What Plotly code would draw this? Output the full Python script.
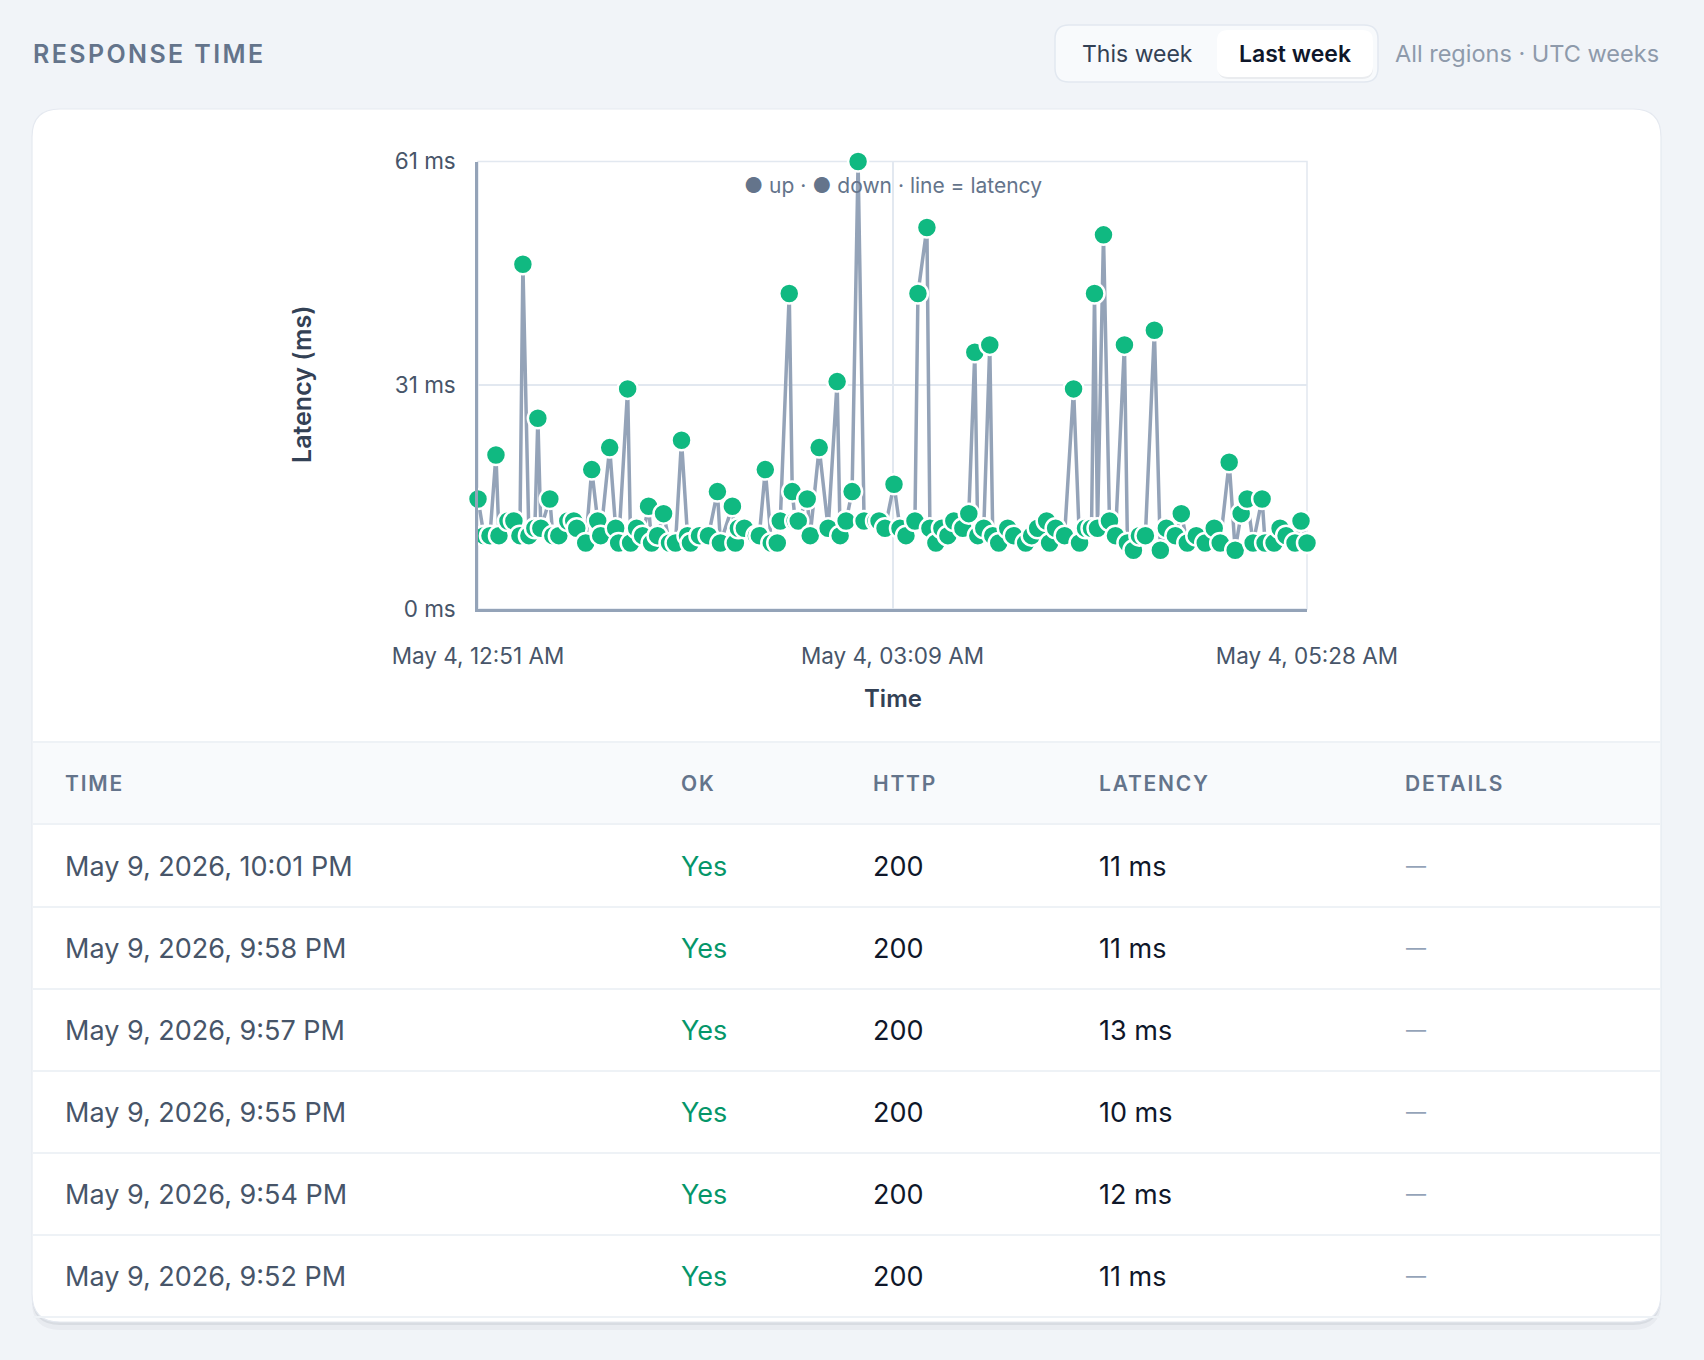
import plotly.graph_objects as go
import pandas as pd

W, H = 1704, 1360

# ---------------- data ----------------
check_times = [
    "00:51", "00:53", "00:55", "00:57", "00:58", "01:01", "01:03", "01:05", "01:06", "01:08",
    "01:10", "01:11", "01:12", "01:15", "01:16", "01:18", "01:21", "01:23", "01:24", "01:27",
    "01:29", "01:31", "01:32", "01:35", "01:37", "01:38", "01:41", "01:42", "01:44", "01:46",
    "01:48", "01:49", "01:51", "01:53", "01:55", "01:57", "01:59", "02:01", "02:02", "02:05",
    "02:08", "02:11", "02:12", "02:16", "02:17", "02:18", "02:20", "02:24", "02:25", "02:27",
    "02:29", "02:31", "02:32", "02:35", "02:36", "02:37", "02:38", "02:41", "02:42", "02:45",
    "02:48", "02:51", "02:52", "02:54", "02:56", "02:58", "03:00", "03:04", "03:05", "03:07",
    "03:10", "03:12", "03:14", "03:17", "03:18", "03:21", "03:22", "03:24", "03:26", "03:28",
    "03:30", "03:33", "03:35", "03:37", "03:38", "03:40", "03:42", "03:43", "03:45", "03:48",
    "03:50", "03:54", "03:56", "03:58", "04:01", "04:02", "04:04", "04:07", "04:10", "04:12",
    "04:14", "04:16", "04:17", "04:18", "04:20", "04:22", "04:24", "04:27", "04:28", "04:30",
    "04:32", "04:34", "04:37", "04:39", "04:41", "04:44", "04:46", "04:48", "04:51", "04:54",
    "04:57", "04:59", "05:02", "05:04", "05:06", "05:08", "05:10", "05:13", "05:14", "05:17",
    "05:19", "05:21", "05:24", "05:26", "05:28",
]
latency_ms = [
    15, 10, 10, 21, 10, 12, 12, 10, 47, 10,
    11, 26, 11, 15, 10, 10, 12, 12, 11, 9,
    19, 12, 10, 22, 11, 9, 30, 9, 11, 10,
    14, 9, 10, 13, 9, 9, 23, 10, 9, 10,
    10, 16, 9, 14, 9, 11, 11, 10, 10, 19,
    9, 9, 12, 43, 16, 12, 12, 15, 10, 22,
    11, 31, 10, 12, 16, 61, 12, 12, 12, 11,
    17, 11, 10, 12, 43, 52, 11, 9, 11, 10,
    12, 11, 13, 35, 10, 11, 36, 10, 9, 11,
    10, 9, 10, 11, 12, 9, 11, 10, 30, 9,
    11, 11, 43, 11, 51, 12, 10, 36, 9, 8,
    10, 10, 38, 8, 11, 10, 13, 9, 10, 9,
    11, 9, 20, 8, 13, 15, 9, 15, 9, 9,
    11, 10, 9, 12, 9,
]
chart_date = "2026-05-04"
y_tick_vals = [0, 30.5, 61]
y_tick_text = ["0 ms", "31 ms", "61 ms"]

table_cols = ["TIME", "OK", "HTTP", "LATENCY", "DETAILS"]
row_time = ["May 9, 2026, 10:01 PM", "May 9, 2026, 9:58 PM", "May 9, 2026, 9:57 PM",
            "May 9, 2026, 9:55 PM", "May 9, 2026, 9:54 PM", "May 9, 2026, 9:52 PM"]
row_ok = ["Yes", "Yes", "Yes", "Yes", "Yes", "Yes"]
row_http = ["200", "200", "200", "200", "200", "200"]
row_latency = ["11 ms", "11 ms", "13 ms", "10 ms", "12 ms", "11 ms"]
row_details = ["—", "—", "—", "—", "—", "—"]

# ---------------- helpers ----------------
FONT = "Inter, Roboto, 'Noto Sans', sans-serif"


def px(x):
    return x / W


def py(y):
    return 1 - y / H


def rr_path(x0, y0, x1, y1, r):
    pts = [
        ("M", [(x0 + r, y0)]),
        ("L", [(x1 - r, y0)]),
        ("Q", [(x1, y0), (x1, y0 + r)]),
        ("L", [(x1, y1 - r)]),
        ("Q", [(x1, y1), (x1 - r, y1)]),
        ("L", [(x0 + r, y1)]),
        ("Q", [(x0, y1), (x0, y1 - r)]),
        ("L", [(x0, y0 + r)]),
        ("Q", [(x0, y0), (x0 + r, y0)]),
    ]
    s = ""
    for cmd, ps in pts:
        s += cmd + " " + " ".join(f"{px(a):.6f},{py(b):.6f}" for a, b in ps) + " "
    return s + "Z"


shapes = []
annotations = []


def add_rr(x0, y0, x1, y1, r, fill, line=None, lw=0, layer="below"):
    shapes.append(dict(type="path", xref="paper", yref="paper", path=rr_path(x0, y0, x1, y1, r),
                       fillcolor=fill, line=dict(color=line or "rgba(0,0,0,0)", width=lw), layer=layer))


def add_rect(x0, y0, x1, y1, fill, line=None, lw=0, layer="below"):
    shapes.append(dict(type="rect", xref="paper", yref="paper", x0=px(x0), x1=px(x1), y0=py(y1), y1=py(y0),
                       fillcolor=fill, line=dict(color=line or "rgba(0,0,0,0)", width=lw), layer=layer))


def add_hline(x0, x1, y, color, lw):
    shapes.append(dict(type="line", xref="paper", yref="paper", x0=px(x0), x1=px(x1), y0=py(y), y1=py(y),
                       line=dict(color=color, width=lw), layer="below"))


def add_text(x, y, text, size, color, xanchor="left", weight=400, textangle=0, spacing=None):
    if spacing is not None:
        text = f"<span style='letter-spacing:{spacing}px'>{text}</span>"
    annotations.append(dict(x=px(x), y=py(y), xref="paper", yref="paper", text=text, showarrow=False,
                            xanchor=xanchor, yanchor="middle", textangle=textangle,
                            font=dict(family=FONT, size=size, color=color, weight=weight)))


# ---------------- page chrome ----------------
# header
add_text(31, 54, "RESPONSE TIME", 25, "#64748b", weight=600, spacing=2.4)
add_rr(1055, 25, 1378, 82, 14, "#f8fafc", "#e2e8f0", 1.5)
add_rr(1218, 32, 1373, 79, 11, "rgba(15,23,42,0.06)")
add_rr(1217, 30, 1373, 77, 11, "#ffffff")
add_text(1137, 54, "This week", 23, "#334155", xanchor="center")
add_text(1295, 54, "Last week", 23, "#0f172a", xanchor="center", weight=600)
add_text(1661, 54, "All regions · UTC weeks", 23.5, "#8e9aab", xanchor="right")

# card with shadow
add_rr(32, 116, 1661, 1330, 28, "rgba(15,23,42,0.04)")
add_rr(32, 112, 1661, 1325, 28, "rgba(15,23,42,0.07)")
add_rr(32, 109, 1661, 1322, 28, "#ffffff", "#e5e9f0", 1.2)

# plot area light frame
add_rect(478, 161.5, 1307, 609, "rgba(0,0,0,0)", "#e2e8f0", 1.5)

# axis titles & legend note
add_text(302, 385, "Latency (ms)", 25, "#334155", xanchor="center", weight=600, textangle=-90)
add_text(893, 699, "Time", 24, "#334155", xanchor="center", weight=600)
annotations.append(dict(x=px(893), y=py(186), xref="paper", yref="paper",
                        text="<span style='color:#64748b'>●</span> up · <span style='color:#64748b'>●</span> down · line = latency",
                        showarrow=False, xanchor="center", yanchor="middle",
                        font=dict(family=FONT, size=21, color="#64748b")))

# ---------------- table ----------------
col_x = [63, 679, 871, 1097, 1403]
add_rect(33, 742, 1660, 824, "#f8fafc")
add_hline(33, 1660, 742, "#eef2f6", 2)
add_hline(33, 1660, 824, "#eef2f6", 2)
for cx, name in zip(col_x, table_cols):
    add_text(cx, 784, name, 21, "#64748b", weight=600, spacing=1.8)

row_h = 82
for i in range(len(row_time)):
    cy = 866 + i * row_h
    add_text(col_x[0], cy, row_time[i], 27, "#475569")
    add_text(col_x[1], cy, row_ok[i], 27, "#059669")
    add_text(col_x[2], cy, row_http[i], 27, "#0f172a")
    add_text(col_x[3], cy, row_latency[i], 27, "#0f172a")
    add_text(col_x[4] + 1, cy, row_details[i], 20, "#94a3b8")
    add_hline(33, 1660, cy + 41, "#eef2f6", 2)

# ---------------- chart ----------------
times = pd.to_datetime([f"{chart_date} {t}" for t in check_times])
t_min, t_max = times.min(), times.max()
t_mid = t_min + (t_max - t_min) / 2

fig = go.Figure()
fig.add_trace(go.Scatter(
    x=times, y=latency_ms, mode="lines+markers",
    line=dict(color="#94a3b8", width=3.5),
    marker=dict(size=20, color="#10b981", line=dict(color="#ffffff", width=2.5)),
    cliponaxis=False, showlegend=False, hoverinfo="x+y",
))

fig.update_layout(
    width=W, height=H,
    margin=dict(l=0, r=0, t=0, b=0, pad=0, autoexpand=False),
    paper_bgcolor="#f1f4f8",
    plot_bgcolor="#f8fafc",
    font=dict(family=FONT, color="#475569"),
    shapes=shapes,
    annotations=annotations,
    showlegend=False,
    xaxis=dict(
        domain=[px(478), px(1307)],
        type="date",
        range=[t_min, t_max],
        tickvals=[t_min, t_mid, t_max],
        tickformat="%b %-d, %I:%M %p",
        tickfont=dict(size=22.5, color="#475569", family=FONT),
        showgrid=True, gridcolor="#e2e8f0", gridwidth=1.5,
        showline=True, linecolor="#94a3b8", linewidth=2.5,
        zeroline=False, ticks="", ticklabelstandoff=25,
        automargin=False, fixedrange=True,
    ),
    yaxis=dict(
        domain=[py(609), py(161.5)],
        range=[0, max(latency_ms)],
        tickvals=y_tick_vals, ticktext=y_tick_text,
        tickfont=dict(size=22.5, color="#475569", family=FONT),
        showgrid=True, gridcolor="#e2e8f0", gridwidth=1.5,
        showline=True, linecolor="#94a3b8", linewidth=2.5,
        zeroline=False, ticks="", ticklabelstandoff=15,
        automargin=False, fixedrange=True,
    ),
)

fig.write_html("out.html")
